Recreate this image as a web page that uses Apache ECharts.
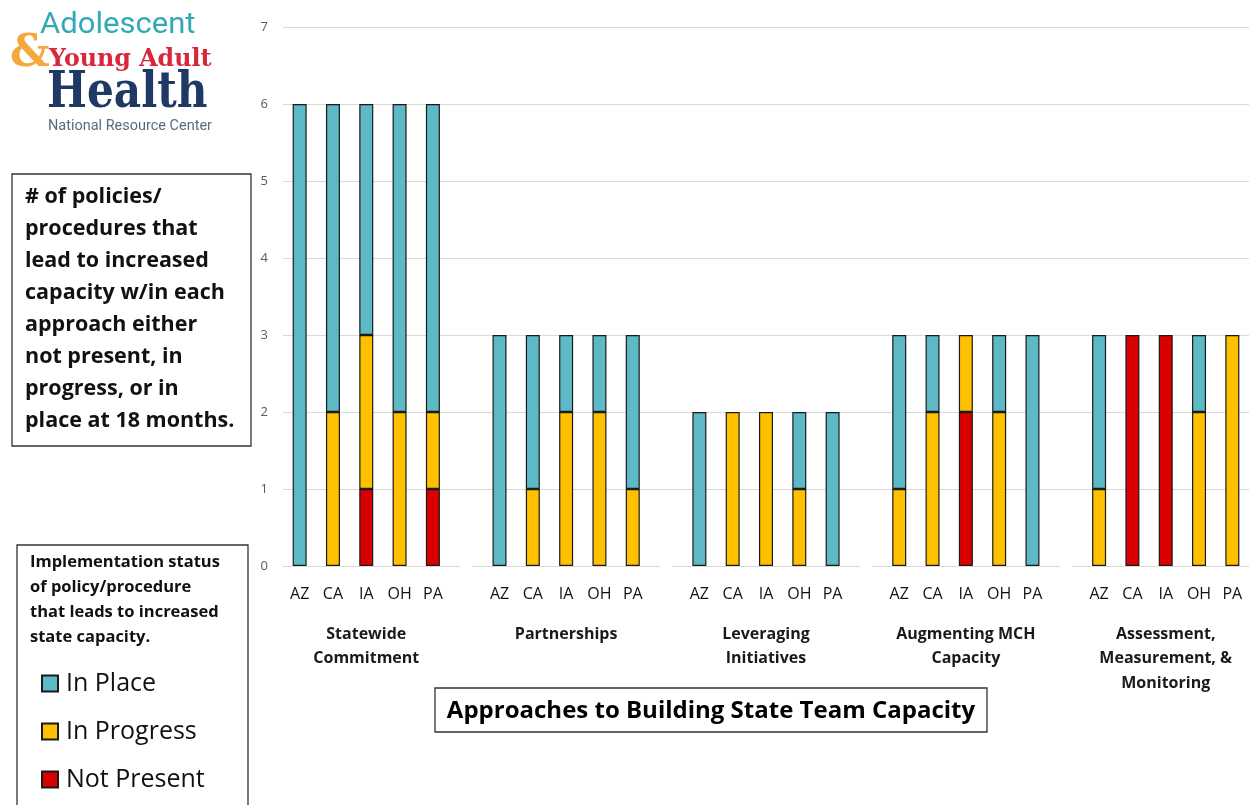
<!DOCTYPE html>
<html>
<head>
<meta charset="utf-8">
<script src="https://cdn.jsdelivr.net/npm/echarts@6/dist/echarts.min.js"></script>
<style>
  html, body { margin: 0; padding: 0; background: #fff; }
  #chart { width: 1249px; height: 805px; }
</style>
</head>
<body>
<div id="chart"></div>
<script>
// ---- data ----
const states = ['AZ', 'CA', 'IA', 'OH', 'PA'];
const groups = ['Statewide\nCommitment', 'Partnerships', 'Leveraging\nInitiatives', 'Augmenting MCH\nCapacity', 'Assessment,\nMeasurement, &\nMonitoring'];
const seriesNames = ['In Place', 'In Progress', 'Not Present'];
// per group, per state (AZ, CA, IA, OH, PA)
const notPresent = [[0, 0, 1, 0, 1], [0, 0, 0, 0, 0], [0, 0, 0, 0, 0], [0, 0, 2, 0, 0], [0, 3, 3, 0, 0]];
const inProgress = [[0, 2, 2, 2, 1], [0, 1, 2, 2, 1], [0, 2, 2, 1, 0], [1, 2, 1, 2, 0], [1, 0, 0, 2, 3]];
const inPlace    = [[6, 4, 3, 4, 4], [3, 2, 1, 1, 2], [2, 0, 0, 1, 2], [2, 1, 0, 1, 3], [2, 0, 0, 1, 0]];
const yTicks = [0, 1, 2, 3, 4, 5, 6, 7];

// ---- build category keys (with a blank slot between groups) ----
const cats = [];
function flatten(arr) {
  const out = [];
  arr.forEach((grp, g) => {
    grp.forEach(v => out.push(v === 0 ? null : v));
    if (g < arr.length - 1) out.push(null);
  });
  return out;
}
groups.forEach((gname, g) => {
  states.forEach((s, i) => cats.push(g + '|' + i));
  if (g < groups.length - 1) cats.push(g + '|x');
});

const colors = { 'In Place': '#5DB9C5', 'In Progress': '#FFC000', 'Not Present': '#D90000' };
const FONT = '"Open Sans", "Liberation Sans", sans-serif';

// ---- layout ----
const gridLeft = 283, gridRight = 1249, gridTop = 27, gridBottomY = 566;
const slot = (gridRight - gridLeft) / cats.length;

const grids = [{ left: gridLeft, width: gridRight - gridLeft, top: gridTop, height: gridBottomY - gridTop }];
const xAxes = [
  {
    type: 'category', data: cats, gridIndex: 0,
    axisLine: { show: false }, axisTick: { show: false },
    axisLabel: {
      interval: 0, margin: 18, fontFamily: FONT, fontSize: 16, lineHeight: 20, color: '#111',
      formatter: v => { const p = v.split('|'); return p[1] === 'x' ? '' : states[+p[1]]; }
    }
  },
  {
    type: 'category', data: cats, gridIndex: 0, position: 'bottom',
    axisLine: { show: false }, axisTick: { show: false },
    axisLabel: {
      interval: 0, margin: 56, fontFamily: FONT, fontSize: 16, fontWeight: 'bold', lineHeight: 24.5, color: '#1a1a1a',
      align: 'center',
      formatter: v => { const p = v.split('|'); return p[1] === '2' ? groups[+p[0]] : ''; }
    }
  }
];
const yAxes = [{
  type: 'value', gridIndex: 0, min: 0, max: yTicks[yTicks.length - 1], interval: 1,
  axisLine: { show: false }, axisTick: { show: false },
  axisLabel: { margin: 15, fontFamily: FONT, fontSize: 13, color: '#595959' },
  splitLine: { lineStyle: { color: yTicks.map((t, i) => i === 0 ? 'rgba(0,0,0,0)' : '#d9d9d9'), width: 1 } }
}];
// baseline segments per group
groups.forEach((gname, g) => {
  const start = gridLeft + 6 * g * slot - (g > 0 ? 10 : 0);
  const end = Math.min(gridRight, gridLeft + (6 * g + 5) * slot + 10);
  grids.push({ left: start, width: end - start, top: gridTop, height: gridBottomY - gridTop });
  xAxes.push({
    type: 'category', data: [''], gridIndex: g + 1, position: 'bottom',
    axisLine: { onZero: false, lineStyle: { color: '#d9d9d9', width: 1 } },
    axisTick: { show: false }, axisLabel: { show: false }
  });
  yAxes.push({ type: 'value', gridIndex: g + 1, show: false, splitLine: { show: false } });
});

const dataBy = { 'Not Present': notPresent, 'In Progress': inProgress, 'In Place': inPlace };
const series = ['Not Present', 'In Progress', 'In Place'].map(name => ({
  name, type: 'bar', stack: 'total', xAxisIndex: 0, yAxisIndex: 0, barWidth: 14,
  itemStyle: { color: colors[name], borderColor: '#1a1a1a', borderWidth: 1.2 },
  data: flatten(dataBy[name])
}));

// ---- graphic (logo, boxes) ----
const graphic = [
  // logo
  { type: 'text', x: 40, y: 26, scaleX: 1.07, style: { text: 'Adolescent', fontFamily: 'Roboto, sans-serif', fontSize: 29, fill: '#33a9b6', textVerticalAlign: 'middle' } },
  { type: 'text', x: 10, y: 55, style: { text: '&', fontFamily: '"DejaVu Serif", serif', fontWeight: 'bold', fontSize: 44, fill: '#f5a93b', textVerticalAlign: 'middle' } },
  { type: 'text', x: 49, y: 59, scaleX: 0.95, style: { text: 'Young Adult', fontFamily: '"DejaVu Serif", serif', fontWeight: 'bold', fontSize: 25, fill: '#d8263c', textVerticalAlign: 'middle' } },
  { type: 'text', x: 47, y: 94, scaleX: 0.845, style: { text: 'Health', fontFamily: '"DejaVu Serif", serif', fontWeight: 'bold', fontSize: 50, fill: '#1e3a64', textVerticalAlign: 'middle' } },
  { type: 'text', x: 48, y: 126, scaleX: 0.965, style: { text: 'National Resource Center', fontFamily: 'Roboto, sans-serif', fontSize: 15, fill: '#5a6b7e', textVerticalAlign: 'middle' } },
  // description box
  { type: 'rect', shape: { x: 12, y: 174, width: 239, height: 272 }, style: { fill: '#fff', stroke: '#333', lineWidth: 1.3 } },
  { type: 'text', x: 25, y: 181, style: {
      text: '# of policies/\nprocedures that\nlead to increased\ncapacity w/in each\napproach either\nnot present, in\nprogress, or in\nplace at 18 months.',
      fontFamily: FONT, fontWeight: 'bold', fontSize: 21.5, lineHeight: 32, fill: '#111', textVerticalAlign: 'top' } },
  // legend box
  { type: 'rect', shape: { x: 17, y: 545, width: 231, height: 270 }, style: { fill: '#fff', stroke: '#333', lineWidth: 1.3 } },
  { type: 'text', x: 30, y: 550, style: {
      text: 'Implementation status\nof policy/procedure\nthat leads to increased\nstate capacity.',
      fontFamily: FONT, fontWeight: 'bold', fontSize: 16.5, lineHeight: 25, fill: '#111', textVerticalAlign: 'top' } },
  // x title box
  { type: 'rect', shape: { x: 435, y: 688, width: 552, height: 44 }, style: { fill: '#fff', stroke: '#333', lineWidth: 1.3 } },
  { type: 'text', x: 711, y: 711, style: {
      text: 'Approaches to Building State Team Capacity',
      fontFamily: FONT, fontWeight: 'bold', fontSize: 24, fill: '#000', textAlign: 'center', textVerticalAlign: 'middle' } }
];

const chart = echarts.init(document.getElementById('chart'));
chart.setOption({
  backgroundColor: '#fff',
  animation: false,
  grid: grids,
  xAxis: xAxes,
  yAxis: yAxes,
  legend: {
    data: seriesNames, orient: 'vertical', left: 36, top: 666,
    itemWidth: 16, itemHeight: 16, itemGap: 23, icon: 'rect', z: 10,
    textStyle: { fontFamily: FONT, fontSize: 25, lineHeight: 24, color: '#111', padding: [0, 0, 0, 3] }
  },
  graphic: graphic,
  series: series
});
</script>
</body>
</html>
